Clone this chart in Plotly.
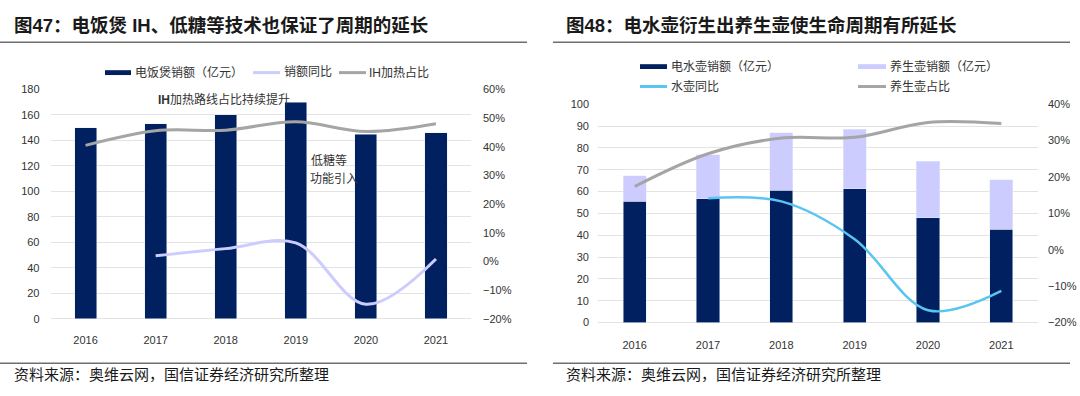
import plotly.graph_objects as go

# ---------------- data ----------------
years = ["2016", "2017", "2018", "2019", "2020", "2021"]

# Figure 47 - rice cookers
rice_sales = [150, 153, 160, 170, 145, 146]            # 电饭煲销额（亿元）
rice_yoy = [None, 0.02, 0.045, 0.065, -0.149, 0.009]   # 销额同比
ih_share = [0.405, 0.456, 0.458, 0.487, 0.453, 0.48]   # IH加热占比

# Figure 48 - kettles
kettle_sales = [55.6, 56.7, 60.5, 61.3, 48.1, 42.8]    # 电水壶销额（亿元）
health_sales = [11.7, 20.2, 26.5, 27.3, 25.9, 22.6]    # 养生壶销额（亿元）
kettle_yoy = [None, 0.142, 0.133, 0.029, -0.166, -0.113]  # 水壶同比
health_share = [0.174, 0.264, 0.307, 0.309, 0.35, 0.347]  # 养生壶占比

left_y_ticks = [0, 20, 40, 60, 80, 100, 120, 140, 160, 180]
right_y_ticks = [0, 10, 20, 30, 40, 50, 60, 70, 80, 90, 100]

# ---------------- style ----------------
W, H = 1080, 396
NAVY = "#002060"
LAVENDER = "#CCCCFF"
GRAY = "#A5A5A5"
SKY = "#5BC5F2"
GRID = "#E3E3E3"
TXT = "#333333"
FONT = "Liberation Sans, Noto Sans CJK SC, sans-serif"


def px(x):
    return x / W


def py(y):
    return 1 - y / H


fig = go.Figure()

# Left chart
fig.add_trace(go.Bar(x=years, y=rice_sales, name="电饭煲销额（亿元）", marker_color=NAVY,
                     xaxis="x", yaxis="y", showlegend=False))
fig.add_trace(go.Scatter(x=years, y=rice_yoy, name="销额同比", mode="lines",
                         line=dict(color=LAVENDER, width=3, shape="spline"),
                         xaxis="x", yaxis="y2", showlegend=False))
fig.add_trace(go.Scatter(x=years, y=ih_share, name="IH加热占比", mode="lines",
                         line=dict(color=GRAY, width=3, shape="spline"),
                         xaxis="x", yaxis="y2", showlegend=False))

# Right chart
fig.add_trace(go.Bar(x=years, y=kettle_sales, name="电水壶销额（亿元）", marker_color=NAVY,
                     xaxis="x2", yaxis="y3", showlegend=False))
fig.add_trace(go.Bar(x=years, y=health_sales, name="养生壶销额（亿元）", marker_color=LAVENDER,
                     xaxis="x2", yaxis="y3", showlegend=False))
fig.add_trace(go.Scatter(x=years, y=kettle_yoy, name="水壶同比", mode="lines",
                         line=dict(color=SKY, width=2.5, shape="spline"),
                         xaxis="x2", yaxis="y4", showlegend=False))
fig.add_trace(go.Scatter(x=years, y=health_share, name="养生壶占比", mode="lines",
                         line=dict(color=GRAY, width=3, shape="spline"),
                         xaxis="x2", yaxis="y4", showlegend=False))

tickfont = dict(family=FONT, size=11, color=TXT)

fig.update_layout(
    width=W, height=H,
    margin=dict(l=0, r=0, t=0, b=0, pad=0),
    paper_bgcolor="white", plot_bgcolor="white",
    barmode="stack", bargap=0.685,
    font=dict(family=FONT, color=TXT),
    xaxis=dict(domain=[px(50.5), px(471)], anchor="y", type="category",
               showgrid=False, showline=False, ticks="", tickfont=tickfont,
               ticklabelstandoff=13),
    yaxis=dict(domain=[py(322.7), py(86)], anchor="x", range=[0, 180],
               tickvals=left_y_ticks, showgrid=True, gridcolor=GRID, gridwidth=1,
               zeroline=True, zerolinecolor=GRID, zerolinewidth=1,
               showline=False, ticks="", tickfont=tickfont, ticklabelstandoff=10),
    yaxis2=dict(overlaying="y", side="right", anchor="x", range=[-0.2, 0.6],
                dtick=0.1, tick0=0, tickformat=".0%", showgrid=False, zeroline=False,
                showline=False, ticks="", tickfont=tickfont, ticklabelstandoff=11),
    xaxis2=dict(domain=[px(598), px(1038)], anchor="y3", type="category",
                showgrid=False, showline=False, ticks="", tickfont=tickfont,
                ticklabelstandoff=14),
    yaxis3=dict(domain=[py(326.5), py(101.3)], anchor="x2", range=[0, 100],
                tickvals=right_y_ticks, showgrid=True, gridcolor=GRID, gridwidth=1,
                zeroline=True, zerolinecolor=GRID, zerolinewidth=1,
                showline=False, ticks="", tickfont=tickfont, ticklabelstandoff=8),
    yaxis4=dict(overlaying="y3", side="right", anchor="x2", range=[-0.2, 0.4],
                dtick=0.1, tick0=0, tickformat=".0%", showgrid=False, zeroline=False,
                showline=False, ticks="", tickfont=tickfont, ticklabelstandoff=9),
)

shapes = []
annotations = []


def hline(x0, x1, y, color="#6E6E6E", width=1.5):
    shapes.append(dict(type="line", xref="paper", yref="paper",
                       x0=px(x0), x1=px(x1), y0=py(y), y1=py(y),
                       line=dict(color=color, width=width)))


def text(x, y, s, size=12, anchor="left", bold=False, color=TXT):
    annotations.append(dict(xref="paper", yref="paper", x=px(x), y=py(y),
                            text=("<b>%s</b>" % s) if bold else s, showarrow=False,
                            xanchor=anchor, yanchor="middle", borderpad=0,
                            font=dict(family=FONT, size=size, color=color)))


def swatch_bar(x0, x1, y, color):
    shapes.append(dict(type="rect", xref="paper", yref="paper",
                       x0=px(x0), x1=px(x1), y0=py(y + 2.5), y1=py(y - 2.5),
                       fillcolor=color, line=dict(width=0)))


def swatch_line(x0, x1, y, color):
    shapes.append(dict(type="line", xref="paper", yref="paper",
                       x0=px(x0), x1=px(x1), y0=py(y), y1=py(y),
                       line=dict(color=color, width=3)))


# Titles and rules
text(13, 20, "图47：电饭煲 IH、低糖等技术也保证了周期的延长", size=18.5, bold=True, color="#1A1A1A")
text(565, 20.5, "图48：电水壶衍生出养生壶使生命周期有所延长", size=18.5, bold=True, color="#1A1A1A")
hline(0, 527, 37.3)
hline(553, 1070, 37.3)
hline(0, 527, 368.3)
hline(553, 1070, 368.3)
text(13, 380.5, "资料来源：奥维云网，国信证券经济研究所整理", size=15, color="#1A1A1A")
text(565, 380.5, "资料来源：奥维云网，国信证券经济研究所整理", size=15, color="#1A1A1A")

# Left legend
swatch_bar(105, 131, 68.7, NAVY)
text(134, 68.2, "电饭煲销额（亿元）")
swatch_line(253, 280, 68.7, LAVENDER)
text(283, 68.2, "销额同比")
swatch_line(339, 366, 68.7, GRAY)
text(367.5, 68.2, "IH加热占比")

# Right legend
swatch_bar(640, 667, 62.5, NAVY)
text(669.5, 62, "电水壶销额（亿元）")
swatch_bar(858, 886, 62.5, LAVENDER)
text(888.5, 62, "养生壶销额（亿元）")
swatch_line(640, 667, 83, SKY)
text(669.5, 82.5, "水壶同比")
swatch_line(858, 886, 83, GRAY)
text(888.5, 82.5, "养生壶占比")

# Chart annotations (left)
text(156.5, 96.5, "<b>IH</b>加热路线占比持续提升", size=12)
text(310, 159.5, "低糖等", size=12)
text(309, 178.5, "功能引入", size=12)

fig.update_layout(shapes=shapes, annotations=annotations)

fig.write_html("out.html",
               config={"displayModeBar": False},
               post_script="document.body.style.margin='0';"
                           "document.body.style.overflow='hidden';")
